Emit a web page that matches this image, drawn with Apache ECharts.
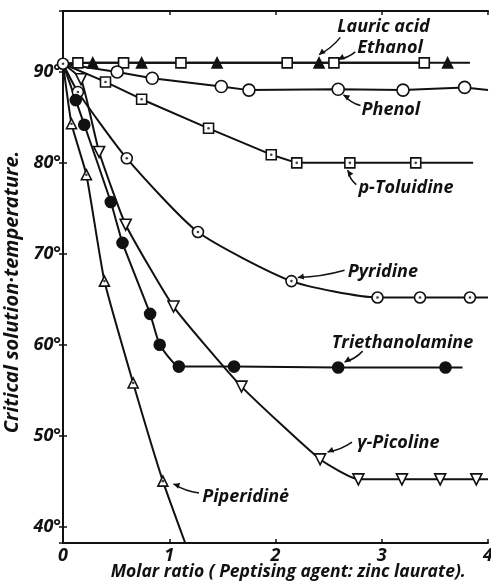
<!DOCTYPE html>
<html>
<head>
<meta charset="utf-8">
<script src="https://cdn.jsdelivr.net/npm/echarts@6/dist/echarts.min.js"></script>
<style>
  html, body { margin: 0; padding: 0; background: #fff; }
  #chart { width: 491px; height: 584px; }
</style>
</head>
<body>
<div id="chart"></div>
<script>
// data: [molar ratio, critical solution temperature]
const origin = [0, 90.9];
const lauricAcid = [[0.28, 91.0], [0.74, 91.0], [1.45, 91.0], [2.41, 91.0], [3.62, 91.0]];
const lauricEnd = [3.83, 91.0];
const ethanol = [[0.14, 91.0], [0.57, 91.0], [1.11, 91.0], [2.11, 91.0], [2.55, 91.0], [3.40, 91.0]];
const phenol = [[0.51, 90.0], [0.84, 89.3], [1.49, 88.4], [1.75, 88.0], [2.59, 88.1], [3.20, 88.0], [3.78, 88.3]];
const phenolEnd = [4.0, 88.0];
const toluidine = [[0.40, 88.9], [0.74, 87.0], [1.37, 83.8], [1.96, 80.9], [2.20, 80.0], [2.70, 80.0], [3.32, 80.0]];
const toluidineEnd = [3.86, 80.0];
const pyridine = [[0, 90.9], [0.14, 87.8], [0.60, 80.5], [1.27, 72.4], [2.15, 67.0], [2.96, 65.2], [3.36, 65.2], [3.83, 65.2]];
const pyridineEnd = [4.0, 65.2];
const triethanolamine = [[0.12, 86.9], [0.20, 84.2], [0.45, 75.7], [0.56, 71.2], [0.82, 63.4], [0.91, 60.0], [1.09, 57.6], [1.61, 57.6], [2.59, 57.5], [3.60, 57.5]];
const triethanolamineEnd = [3.76, 57.5];
const picoline = [[0.17, 89.2], [0.34, 81.2], [0.59, 73.2], [1.04, 64.2], [1.68, 55.4], [2.42, 47.4], [2.78, 45.2], [3.19, 45.2], [3.55, 45.2], [3.89, 45.2]];
const picolineEnd = [4.0, 45.2];
const piperidine = [[0.08, 84.3], [0.22, 78.7], [0.39, 67.0], [0.66, 55.8], [0.94, 45.0]];
const piperidineEnd = [1.15, 38.2];

const xTicks = [0, 1, 2, 3, 4];
const yTicks = [40, 50, 60, 70, 80, 90];
const xTitle = "Molar ratio ( Peptising agent: zinc laurate).";
const yTitle = "Critical solution\u00b7temperature.";

// annotation text, text anchor (left-middle) and arrow tip, in data units
const notes = [
  { text: "Lauric acid", at: [2.58, 94.9], from: [2.61, 93.8], to: [2.41, 91.9] },
  { text: "Ethanol", at: [2.77, 92.7], from: [2.75, 92.2], to: [2.59, 91.4] },
  { text: "Phenol", at: [2.81, 85.8], from: [2.80, 86.3], to: [2.64, 87.5] },
  { text: "p-Toluidine", at: [2.78, 77.3], from: [2.76, 77.6], to: [2.68, 79.2] },
  { text: "Pyridine", at: [2.68, 68.0], from: [2.65, 68.2], to: [2.21, 67.4] },
  { text: "Triethanolamine", at: [2.53, 60.2], from: [2.82, 59.3], to: [2.65, 58.1] },
  { text: "\u03b3-Picoline", at: [2.77, 49.2], from: [2.72, 49.3], to: [2.49, 48.2] },
  { text: "Piperidin\u0117", at: [1.31, 43.3], from: [1.28, 43.7], to: [1.04, 44.7] }
];

const FONT = "'Open Sans', 'DejaVu Sans', sans-serif";
const INK = "#111";

const withStart = (pts, end) => {
  const out = [{ value: origin, symbol: "none" }];
  pts.forEach((p) => out.push(p));
  if (end) out.push({ value: end, symbol: "none" });
  return out;
};

function lineSeries(name, data, symbol, size, filled, smooth) {
  return {
    name: name,
    type: "line",
    data: data,
    symbol: symbol,
    symbolSize: size,
    showAllSymbol: true,
    smooth: smooth || false,
    clip: true,
    lineStyle: { color: INK, width: 2 },
    itemStyle: { color: filled ? INK : "#fff", borderColor: INK, borderWidth: 1.6 },
    emphasis: { disabled: true },
    z: 3
  };
}

function dotSeries(pts) {
  return {
    type: "scatter",
    data: pts,
    symbol: "circle",
    symbolSize: 2.6,
    itemStyle: { color: INK },
    emphasis: { disabled: true },
    silent: true,
    z: 5
  };
}

const tickLabel = {
  fontFamily: FONT,
  fontStyle: "italic",
  fontWeight: "bold",
  fontSize: 18,
  color: INK
};

const option = {
  animation: false,
  backgroundColor: "#fff",
  grid: { left: 63, right: 3, top: 11, bottom: 41, containLabel: false, outerBoundsMode: "none" },
  xAxis: [
    {
      type: "value",
      min: 0,
      max: 4,
      interval: 1,
      axisLine: { lineStyle: { color: INK, width: 2 } },
      axisTick: { inside: true, length: 4, lineStyle: { color: INK, width: 1.5 } },
      axisLabel: { ...tickLabel, fontSize: 18, margin: 4, formatter: (v) => (xTicks.includes(v) ? String(v) : "") },
      splitLine: { show: false }
    },
    {
      type: "value",
      position: "top",
      min: 0,
      max: 4,
      interval: 1,
      axisLine: { lineStyle: { color: INK, width: 2 } },
      axisTick: { inside: true, length: 4, lineStyle: { color: INK, width: 1.5 } },
      axisLabel: { show: false },
      splitLine: { show: false }
    }
  ],
  yAxis: [
    {
      type: "value",
      min: 38.2,
      max: 96.7,
      name: yTitle,
      nameLocation: "middle",
      nameRotate: 90,
      nameGap: 37,
      nameTextStyle: { ...tickLabel, fontSize: 20, padding: [0, 0, 0, -30] },
      axisLine: { lineStyle: { color: INK, width: 2 } },
      axisTick: { inside: true, length: 4, lineStyle: { color: INK, width: 1.5 } },
      axisLabel: {
        ...tickLabel,
        fontSize: 18,
        margin: 2,
        showMinLabel: false,
        showMaxLabel: false,
        formatter: (v) => (yTicks.includes(v) ? v + "\u00b0" : "")
      },
      splitLine: { show: false }
    },
    {
      type: "value",
      position: "right",
      min: 38.2,
      max: 96.7,
      axisLine: { lineStyle: { color: INK, width: 2 } },
      axisTick: { inside: true, length: 4, lineStyle: { color: INK, width: 1.5 } },
      axisLabel: { show: false },
      splitLine: { show: false }
    }
  ],
  series: [
    lineSeries("Lauric acid", withStart(lauricAcid, lauricEnd), "triangle", 10, true),
    lineSeries("Ethanol", withStart(ethanol, null), "rect", 10, false),
    lineSeries("Phenol", withStart(phenol, phenolEnd), "circle", 12, false),
    lineSeries("p-Toluidine", withStart(toluidine, toluidineEnd), "rect", 10, false),
    dotSeries(toluidine),
    lineSeries("Pyridine", pyridine.concat([{ value: pyridineEnd, symbol: "none" }]), "circle", 11, false, 0.2),
    dotSeries(pyridine),
    lineSeries("Triethanolamine", withStart(triethanolamine, triethanolamineEnd), "circle", 11, true, 0.15),
    lineSeries("gamma-Picoline", withStart(picoline, picolineEnd), "path://M0,0 L10,0 L5,9 Z", 11, false, 0.15),
    lineSeries("Piperidine", withStart(piperidine, piperidineEnd), "triangle", 10, false, 0.15),
    dotSeries(piperidine)
  ]
};

const chart = echarts.init(document.getElementById("chart"), null, { renderer: "canvas" });
chart.setOption(option);

// labels and arrows placed through the axes
const px = (p) => chart.convertToPixel({ xAxisIndex: 0, yAxisIndex: 0 }, p);
const elements = [];

// x axis title, centred a little right of the plot middle, below the tick labels
const base = px([2.12, 38.2]);
elements.push({
  type: "text",
  x: base[0],
  y: base[1] + 29,
  style: { text: xTitle, ...tickLabel, fontSize: 17.5, fill: INK, align: "center", verticalAlign: "middle" },
  z: 10
});

notes.forEach((n) => {
  const a = px(n.at);
  const f = px(n.from);
  const t = px(n.to);
  elements.push({
    type: "text",
    x: a[0],
    y: a[1],
    style: { text: n.text, ...tickLabel, fill: INK, verticalAlign: "middle", align: "left" },
    z: 10
  });
  const ang = Math.atan2(t[1] - f[1], t[0] - f[0]);
  const mx = (f[0] + t[0]) / 2 + Math.sin(ang) * 3;
  const my = (f[1] + t[1]) / 2 - Math.cos(ang) * 3;
  elements.push({
    type: "bezierCurve",
    shape: { x1: f[0], y1: f[1], x2: t[0], y2: t[1], cpx1: mx, cpy1: my },
    style: { stroke: INK, lineWidth: 1.5, fill: null },
    z: 10
  });
  const L = 6, W = 3;
  const bx = t[0] - Math.cos(ang) * L, by = t[1] - Math.sin(ang) * L;
  elements.push({
    type: "polygon",
    shape: {
      points: [
        [t[0], t[1]],
        [bx + Math.sin(ang) * W, by - Math.cos(ang) * W],
        [bx - Math.sin(ang) * W, by + Math.cos(ang) * W]
      ]
    },
    style: { fill: INK },
    z: 10
  });
});
chart.setOption({ graphic: { elements: elements } });
</script>
</body>
</html>
